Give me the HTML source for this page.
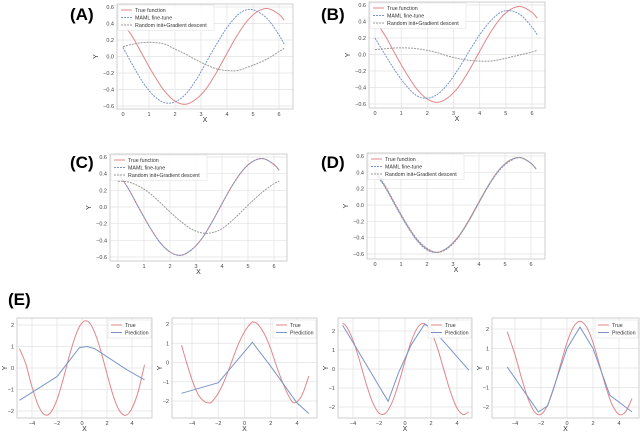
<!DOCTYPE html>
<html><head><meta charset="utf-8"><style>
html,body{margin:0;padding:0;background:#fff;}
svg{display:block;font-family:"Liberation Sans",sans-serif;}
</style></head><body>
<svg id="fig" width="640" height="432" viewBox="0 0 640 432" xmlns="http://www.w3.org/2000/svg">
<text x="70" y="20" font-size="17" font-weight="bold">(A)</text>
<text x="321" y="20" font-size="17" font-weight="bold">(B)</text>
<text x="70" y="168" font-size="17" font-weight="bold">(C)</text>
<text x="321" y="168" font-size="17" font-weight="bold">(D)</text>
<text x="8" y="305" font-size="17" font-weight="bold">(E)</text>
</svg>
<script>
// ---- data: panels A-D (x in 0..6.2) ----
const xsSin = [0,0.4,0.8,1.2,1.6,2.0,2.4,2.8,3.2,3.6,4.0,4.4,4.8,5.2,5.6,6.0,6.2];
const trueSin = [0.41,0.22,-0.01,-0.23,-0.42,-0.54,-0.58,-0.52,-0.39,-0.19,0.04,0.26,0.44,0.55,0.58,0.51,0.44];
const mamlA = [0.11,-0.12,-0.33,-0.48,-0.56,-0.55,-0.46,-0.29,-0.07,0.15,0.35,0.50,0.57,0.54,0.44,0.26,0.15];
const randA = [0.12,0.15,0.17,0.17,0.15,0.09,0.03,-0.04,-0.10,-0.15,-0.17,-0.17,-0.13,-0.08,-0.02,0.06,0.10];
const mamlB = [0.20,-0.01,-0.21,-0.38,-0.50,-0.53,-0.48,-0.35,-0.17,0.04,0.24,0.40,0.51,0.53,0.47,0.33,0.24];
const randB = [0.06,0.07,0.08,0.08,0.07,0.05,0.02,-0.02,-0.05,-0.07,-0.08,-0.08,-0.06,-0.03,0.00,0.03,0.05];
const mamlC = [0.41,0.22,-0.01,-0.23,-0.42,-0.54,-0.58,-0.52,-0.39,-0.19,0.04,0.26,0.44,0.55,0.58,0.51,0.44];
const randC = [0.31,0.30,0.25,0.17,0.06,-0.06,-0.17,-0.26,-0.31,-0.31,-0.26,-0.16,-0.04,0.08,0.19,0.28,0.31];
const mamlD = [0.40,0.21,-0.02,-0.24,-0.43,-0.55,-0.58,-0.52,-0.39,-0.20,0.03,0.25,0.43,0.54,0.58,0.51,0.44];
const randD = [0.42,0.23,0.00,-0.22,-0.41,-0.53,-0.58,-0.53,-0.40,-0.20,0.03,0.26,0.44,0.55,0.58,0.51,0.44];
const xTicksSin = [0,1,2,3,4,5,6];
const yTicksSin = [-0.6,-0.4,-0.2,0.0,0.2,0.4,0.6];
const legendSin = ["True function","MAML fine-tune","Random init+Gradient descent"];
// ---- data: panel E ----
const xsE1 = [-5,-4.5,-4,-3.5,-3,-2.5,-2,-1.5,-1,-0.5,0,0.5,1,1.5,2,2.5,3,3.5,4,4.5,5];
const trueE1 = [0.9,0.19,-0.88,-1.74,-2.17,-2.07,-1.47,-0.5,0.59,1.53,2.10,2.16,1.68,0.80,-0.28,-1.30,-1.99,-2.20,-1.87,-1.08,0.15];
const xpE1 = [-5,-2,-0.2,0.4,1,3.5,5];
const predE1 = [-1.5,-0.4,0.95,1.0,0.9,-0.05,-0.55];
const xsE2 = [-4.8,-4.5,-4,-3.5,-3,-2.7,-2.5,-2,-1.5,-1,-0.5,0,0.5,0.7,1,1.5,2,2.5,3,3.5,3.8,4.2,4.5,4.9];
const trueE2 = [0.9,0.2,-0.9,-1.7,-2.05,-2.1,-2.05,-1.6,-0.9,0.0,0.9,1.6,2.05,2.1,2.0,1.5,0.7,-0.3,-1.2,-1.9,-2.1,-1.9,-1.5,-0.7];
const xpE2 = [-4.8,-2,0.6,2,4,4.9];
const predE2 = [-1.6,-1.05,1.05,-0.2,-2.1,-2.65];
const xsE3 = [-4.8,-4.5,-4,-3.5,-3,-2.5,-2,-1.5,-1,-0.5,0,0.5,1,1.5,2,2.5,3,3.5,4,4.5,4.9];
const trueE3 = [2.4,2.23,1.52,0.45,-0.74,-1.74,-2.32,-2.33,-1.77,-0.78,0.41,1.49,2.21,2.39,1.98,1.09,-0.07,-1.21,-2.06,-2.40,-2.25];
const xpE3 = [-4.8,-4,-1.3,-0.5,0.5,1.5,2,4.9];
const predE3 = [2.3,1.4,-1.7,-0.2,1.3,2.35,2.2,-0.05];
const xsE4 = [-4.6,-4,-3.5,-3,-2.5,-2,-1.5,-1,-0.5,0,0.5,1,1.5,2,2.5,3,3.5,4,4.5,5];
const trueE4 = [1.86,0.68,-0.51,-1.57,-2.25,-2.38,-1.92,-1.0,0.17,1.30,2.11,2.4,2.11,1.30,0.17,-1.0,-1.92,-2.38,-2.25,-1.57];
const xpE4 = [-4.6,-2.2,-1.5,0,1,2,3.3,5];
const predE4 = [0.05,-2.25,-1.95,1.0,2.1,1.0,-1.4,-2.25];
const xTicksE = [-4,-2,0,2,4];
const yTicksE = [-2,-1,0,1,2];
const legendE = ["True","Prediction"];

const NS = "http://www.w3.org/2000/svg";
const svg = document.getElementById('fig');
function mk(tag, attrs, parent){const e=document.createElementNS(NS,tag);for(const k in attrs)e.setAttribute(k,attrs[k]);(parent||svg).appendChild(e);return e;}
function fmt(v,dec){const s=v.toFixed(dec);return v<0?'\u2212'+s.slice(1):s;}
function smoothPath(P){
  let d='M'+P[0][0].toFixed(1)+','+P[0][1].toFixed(1);
  for(let i=0;i<P.length-1;i++){
    const p0=P[Math.max(i-1,0)],p1=P[i],p2=P[i+1],p3=P[Math.min(i+2,P.length-1)];
    const c1=[p1[0]+(p2[0]-p0[0])/6,p1[1]+(p2[1]-p0[1])/6];
    const c2=[p2[0]-(p3[0]-p1[0])/6,p2[1]-(p3[1]-p1[1])/6];
    d+='C'+c1[0].toFixed(1)+','+c1[1].toFixed(1)+' '+c2[0].toFixed(1)+','+c2[1].toFixed(1)+' '+p2[0].toFixed(1)+','+p2[1].toFixed(1);
  }
  return d;
}

function panel(p){
  const g=mk('g',{});
  
  
  const sx=v=>p.px0+(v-p.dx0)*(p.px1-p.px0)/(p.dx1-p.dx0);
  const sy=v=>p.py0+(v-p.dy0)*(p.py1-p.py0)/(p.dy1-p.dy0);
  for(const t of p.xt){const l=mk('line',{x1:sx(t),x2:sx(t),y1:p.top,y2:p.bot,stroke:'#e2e2e2','stroke-width':0.7},g);
    
    const tx=mk('text',{x:sx(t),y:p.bot+7,'font-size':5.5,fill:'#444','text-anchor':'middle'},g);tx.textContent=fmt(t,0);
    }
  for(const t of p.yt){const l=mk('line',{x1:p.left,x2:p.right,y1:sy(t),y2:sy(t),stroke:'#e2e2e2','stroke-width':0.7},g);
    
    const tx=mk('text',{x:p.left-3,y:sy(t)+2,'font-size':5.5,fill:'#444','text-anchor':'end'},g);tx.textContent=fmt(t,p.ydec);
    }
  const fr=mk('rect',{x:p.left,y:p.top,width:p.right-p.left,height:p.bot-p.top,fill:'none',stroke:'#c4c4c4','stroke-width':0.8},g);
  
  const xl=mk('text',{x:(p.left+p.right)/2,y:p.bot+13,'font-size':7,fill:'#333','text-anchor':'middle'},g);xl.textContent='X';
  
  const yx=p.left-(p.ydec?19:10), yy=(p.top+p.bot)/2;
  const yl=mk('text',{x:yx,y:yy,'font-size':7,fill:'#333','text-anchor':'middle',transform:`rotate(-90 ${yx} ${yy})`},g);yl.textContent='Y';
  
  for(const s of p.series){
    const pts=s.x.map((v,i)=>[sx(v),sy(s.y[i])]);
    let d;
    if(s.smooth){d=smoothPath(pts);}else{d='';pts.forEach((q,i)=>{d+=(i?'L':'M')+q[0].toFixed(1)+','+q[1].toFixed(1);});}
    const path=mk('path',{d:d,fill:'none',stroke:s.c,'stroke-width':s.w||1,'stroke-dasharray':s.dash||'none'},g);
    
    
  }
  const L=p.legend;
  const lg=mk('g',{},g);
  
  
  mk('rect',{x:L.x,y:L.y,width:L.w,height:L.labels.length*7.5+3,fill:'#fff','fill-opacity':0.85,stroke:'#ddd','stroke-width':0.5},lg);
  L.labels.forEach((lab,i)=>{const s=p.series[i];const yy=L.y+5+i*7.5;
    const ln=mk('line',{x1:L.x+3,x2:L.x+14,y1:yy,y2:yy,stroke:s.c,'stroke-width':1,'stroke-dasharray':s.dash||'none'},lg);
    
    const t=mk('text',{x:L.x+17,y:yy+2,'font-size':5.3,fill:'#333'},lg);t.textContent=lab;
    });
}
const RED='#e0868a',BLUE='#7a95c6',GRAY='#9a9a9a';
function sinPanel(name,box,maml,rand){
  panel({name:name,left:box[0],right:box[1],top:box[2],bot:box[3],px0:box[4],px1:box[5],dx0:0,dx1:6,py0:box[6],py1:box[7],dy0:0.6,dy1:-0.6,
    xt:xTicksSin,yt:yTicksSin,ydec:1,
    series:[{name:'true-function-line',x:xsSin,y:trueSin,c:RED,smooth:true},
            {name:'maml-fine-tune-line',x:xsSin,y:maml,c:BLUE,dash:'2,1',smooth:true},
            {name:'random-init-line',x:xsSin,y:rand,c:GRAY,dash:'2,1',smooth:true}],
    legend:{x:box[0]+1,y:box[2]+1,w:96,labels:legendSin}});
}
sinPanel('panel-a',[117,293,4,109,123,279,7,106],mamlA,randA);
sinPanel('panel-b',[369,545,2,108,375,532,5,104],mamlB,randB);
sinPanel('panel-c',[110,287,154,261,118,274,157,257],mamlC,randC);
sinPanel('panel-d',[367,545,153,259,375,531,156,254],mamlD,randD);
function ePanel(name,box,xs,tr,xp,pr){
  panel({name:name,left:box[0],right:box[1],top:318,bot:418,px0:box[2],px1:box[3],dx0:-4,dx1:4,py0:box[4],py1:box[5],dy0:2,dy1:-2,
    xt:xTicksE,yt:yTicksE,ydec:0,
    series:[{name:'true-line',x:xs,y:tr,c:RED,smooth:true},{name:'prediction-line',x:xp,y:pr,c:BLUE}],
    legend:{x:box[1]-44,y:320,w:43,labels:legendE}});
}
ePanel('panel-e1',[17,152,32,132,325,411],xsE1,trueE1,xpE1,predE1);
ePanel('panel-e2',[172,317,192,297,324,401],xsE2,trueE2,xpE2,predE2);
ePanel('panel-e3',[338,472,353,457,331,407],xsE3,trueE3,xpE3,predE3);
ePanel('panel-e4',[492,639,515,619,329,407],xsE4,trueE4,xpE4,predE4);
</script>
</body></html>
